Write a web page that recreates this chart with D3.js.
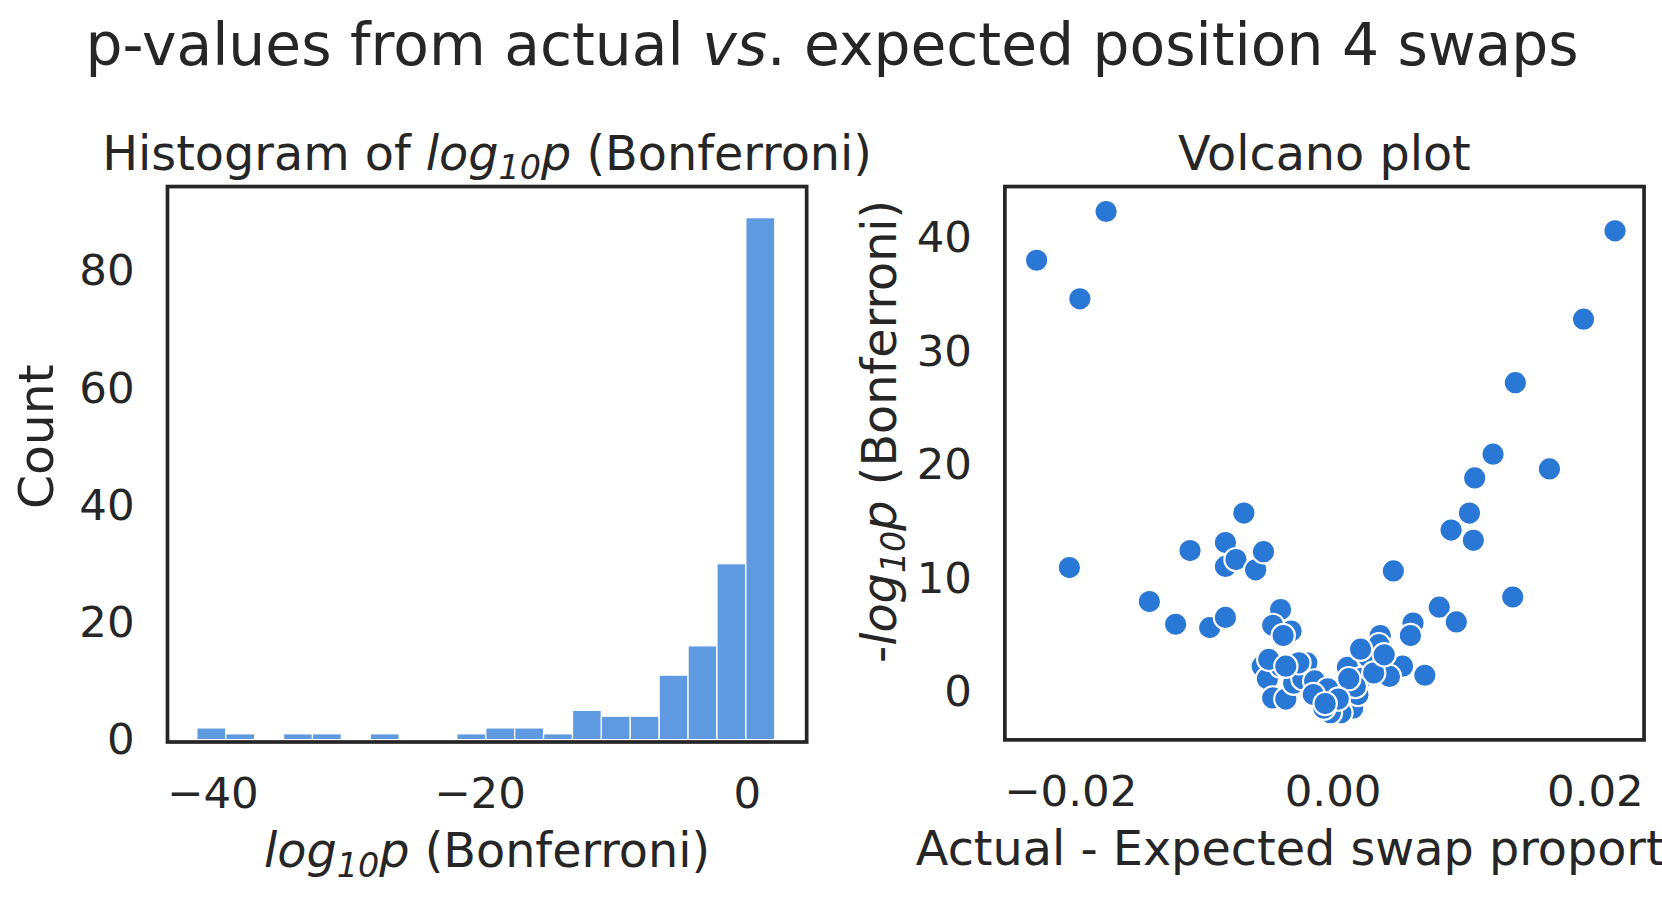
<!DOCTYPE html>
<html><head><meta charset="utf-8">
<script src="https://cdn.jsdelivr.net/npm/d3@7"></script>
<style>body{margin:0;background:#fff;overflow:hidden}text{font-family:"DejaVu Sans",sans-serif;fill:#262626}</style>
</head><body><svg id="c" width="1662" height="897"></svg>
<script>
// histogram bins of log10 p (Bonferroni)
const binStart = -41.2, binWidth = 2.163;
const binCounts = [2,1,0,1,1,0,1,0,0,1,2,2,1,5,4,4,11,16,30,89];
const histXTicks = [-40,-20,0], histYTicks = [0,20,40,60,80];

// volcano points: actual - expected swap proportion, -log10 p
const volX = [-0.0226,-0.0173,-0.0193,-0.0201,-0.0140,-0.0120,-0.0109,-0.0094,-0.0082,-0.0082,-0.0082,-0.0074,-0.0068,-0.0059,-0.0053,-0.0040,-0.0032,-0.0046,
  0.0215,0.0191,0.0139,0.0122,0.0108,0.0165,0.0104,0.0090,0.0107,0.0137,0.0081,0.0094,0.0070,0.0046,0.0061,0.0059,0.0053,0.0036,0.0043,
  -0.0054,-0.0050,-0.0046,-0.0040,-0.0036,-0.0030,-0.0023,-0.0020,-0.0014,-0.0010,-0.0004,0.0001,0.0004,0.0009,0.0015,0.0019,0.0011,0.0021,0.0027,0.0031,0.0035,0.0021,0.0017,0.0006,-0.0002,-0.0007,-0.0015,-0.0026,-0.0038,-0.0049,-0.0036,0.0012,0.0039,0.0004,-0.0006];
const volY = [38.0,42.3,34.6,10.9,7.9,5.9,12.4,5.6,6.5,13.1,11.0,11.6,15.7,10.7,12.3,7.2,5.3,5.8,
  40.6,32.8,27.2,20.9,18.8,19.6,15.7,14.2,13.3,8.3,7.4,6.1,1.4,10.6,6.0,4.9,2.2,4.9,1.3,
  2.2,1.1,-0.6,2.2,-0.7,0.7,1.1,2.5,0.9,-0.7,0.2,-1.2,-1.9,-0.7,-1.5,-0.3,2.1,1.1,3.0,1.6,4.1,3.7,0.4,-1.9,-1.9,-1.5,-0.3,2.5,4.9,2.8,2.2,1.1,3.2,-0.7,-1.1];
const volXTicks = [-0.02,0,0.02], volYTicks = [0,10,20,30,40];

const svg = d3.select('#c').append('g').attr('transform','scale(1.06)');
svg.append('text').attr('x',785).attr('y',61).attr('text-anchor','middle').attr('font-size',55)
  .html('p-values from actual <tspan font-style="italic">vs</tspan>.  expected position 4 swaps');

function frame(g, w, h) {
  g.append('rect').attr('width',w).attr('height',h).attr('fill','none').attr('stroke','#262626').attr('stroke-width',3.5);
}
function logp(t, prefix) {
  t.html(`${prefix}<tspan font-style="italic">log</tspan><tspan font-style="italic" font-size="0.7em" dy="9">10</tspan><tspan font-style="italic" dy="-9">p</tspan> (Bonferroni)`);
}

// Histogram
{
  const L=158,T=176,W=603,H=524;
  const x = d3.scaleLinear().domain([-43.4,4.45]).range([0,W]);
  const y = d3.scaleLinear().domain([-0.4,94.3]).range([H,0]);
  const g = svg.append('g').attr('transform',`translate(${L},${T})`);
  g.selectAll('rect.bar').data(binCounts).join('rect').attr('class','bar')
    .attr('x',(d,i)=>x(binStart+i*binWidth)).attr('width',x(binWidth)-x(0))
    .attr('y',d=>y(d)).attr('height',d=>y(0)-y(d))
    .attr('fill','#5f9ae0').attr('stroke','#fff').attr('stroke-width',1.2);
  frame(g,W,H);
  g.selectAll('text.xt').data(histXTicks).join('text').attr('x',d=>x(d)).attr('y',H+62)
    .attr('text-anchor','middle').attr('font-size',41).text(d=>d<0?'\u2212'+(-d):d);
  g.selectAll('text.yt').data(histYTicks).join('text').attr('x',-31).attr('y',d=>y(d)+14)
    .attr('text-anchor','end').attr('font-size',41).text(d=>d);
  g.append('text').attr('x',W/2).attr('y',-16).attr('text-anchor','middle').attr('font-size',45)
    .call(t=>t.html('Histogram of <tspan font-style="italic">log</tspan><tspan font-style="italic" font-size="0.7em" dy="9">10</tspan><tspan font-style="italic" dy="-9">p</tspan> (Bonferroni)'));
  g.append('text').attr('x',W/2).attr('y',H+118).attr('text-anchor','middle').attr('font-size',45).call(t=>logp(t,''));
  g.append('text').attr('transform',`translate(-108,${H/2-26}) rotate(-90)`).attr('text-anchor','middle').attr('font-size',46).text('Count');
}

// Volcano
{
  const L=948,T=176,W=603,H=522;
  const x = d3.scaleLinear().domain([-0.02502,0.02371]).range([0,W]);
  const y = d3.scaleLinear().domain([-4.3,44.5]).range([H,0]);
  const g = svg.append('g').attr('transform',`translate(${L},${T})`);
  g.selectAll('circle').data(volX).join('circle').attr('cx',d=>x(d)).attr('cy',(d,i)=>y(volY[i]))
    .attr('r',11).attr('fill','#2a78d6').attr('stroke','#fff').attr('stroke-width',2);
  frame(g,W,H);
  g.selectAll('text.xt').data(volXTicks).join('text').attr('x',d=>x(d)).attr('y',H+62)
    .attr('text-anchor','middle').attr('font-size',41).text(d=>d<0?'\u2212'+(-d).toFixed(2):d.toFixed(2));
  g.selectAll('text.yt').data(volYTicks).join('text').attr('x',-31).attr('y',d=>y(d)+14)
    .attr('text-anchor','end').attr('font-size',41).text(d=>d);
  g.append('text').attr('x',W/2).attr('y',-16).attr('text-anchor','middle').attr('font-size',45).text('Volcano plot');
  g.append('text').attr('x',-84).attr('y',H+118).attr('font-size',45).text('Actual - Expected swap proportion');
  g.append('text').attr('transform',`translate(-103,${H/2 - 30}) rotate(-90)`).attr('text-anchor','middle').attr('font-size',45).call(t=>logp(t,'-'));
}
</script></body></html>
